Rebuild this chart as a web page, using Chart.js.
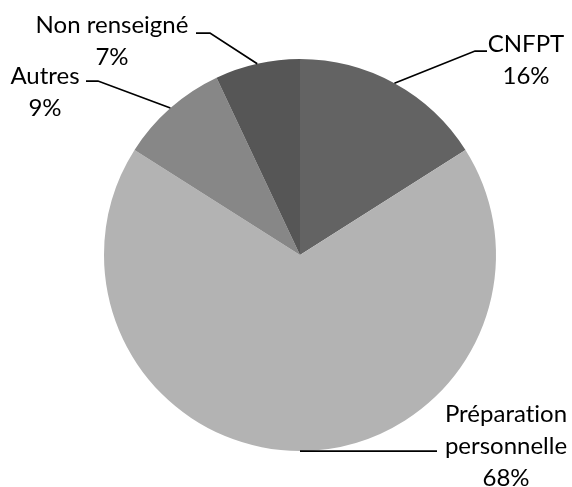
<!DOCTYPE html>
<html>
<head>
<meta charset="utf-8">
<script src="https://cdn.jsdelivr.net/npm/chart.js@4/dist/chart.umd.min.js"></script>
<style>
  html, body { margin: 0; padding: 0; background: #fff; }
  #wrap { width: 572px; height: 487px; }
  canvas { font-variant-ligatures: none; }
</style>
</head>
<body>
<div id="wrap"><canvas id="pieChart" width="572" height="487"></canvas></div>
<script>
// ===== DATA =====
const categories = ["CNFPT", "Préparation personnelle", "Autres", "Non renseigné"];
const values     = [16, 68, 9, 7];
const sliceColors = ["#636363", "#b3b3b3", "#878787", "#565656"];

// label blocks: text lines, text centre, elbow of the leader line, end of leader next to text
const labelLayout = [
  { lines: ["CNFPT"],                      x: 526, y: 44,  elbow: [475, 51],  end: [487, 51] },
  { lines: ["Préparation", "personnelle"], x: 506, y: 414, elbow: null,       end: [437, 451] },
  { lines: ["Autres"],                     x: 45,  y: 76,  elbow: [98, 81],   end: [86, 81] },
  { lines: ["Non renseigné"],              x: 112, y: 25,  elbow: [210, 33],  end: [196, 33] },
];
const LINE_H = 32;
const FONT = "24px Lato, 'Open Sans', sans-serif";

const total = values.reduce((s, v) => s + v, 0);

// ===== LABELS + LEADER LINES =====
const leaderLabels = {
  id: "leaderLabels",
  afterDatasetsDraw(chart) {
    const ctx = chart.ctx;
    const meta = chart.getDatasetMeta(0);
    ctx.save();
    if ("textRendering" in ctx) ctx.textRendering = "optimizeSpeed"; // no "ti" ligature
    meta.data.forEach((arc, i) => {
      const p = arc.getProps(["x", "y", "startAngle", "endAngle", "outerRadius"], true);
      const mid = (p.startAngle + p.endAngle) / 2;
      const ax = p.x + Math.cos(mid) * p.outerRadius;
      const ay = p.y + Math.sin(mid) * p.outerRadius;
      const lay = labelLayout[i];

      ctx.strokeStyle = "#000";
      ctx.lineWidth = 1.75;
      ctx.beginPath();
      ctx.moveTo(ax, ay);
      if (lay.elbow) ctx.lineTo(lay.elbow[0], lay.elbow[1]);
      ctx.lineTo(lay.end[0], lay.end[1]);
      ctx.stroke();

      const pct = Math.round(values[i] / total * 100) + "%";
      const lines = lay.lines.concat([pct]);
      ctx.fillStyle = "#000";
      ctx.font = FONT;
      ctx.textAlign = "center";
      ctx.textBaseline = "middle";
      lines.forEach((t, k) => ctx.fillText(t, lay.x, lay.y + k * LINE_H));
    });
    ctx.restore();
  }
};

new Chart(document.getElementById("pieChart"), {
  type: "pie",
  data: {
    labels: categories,
    datasets: [{ data: values, backgroundColor: sliceColors, borderWidth: 0, hoverOffset: 0 }]
  },
  options: {
    responsive: false,
    animation: false,
    layout: { padding: { left: 100, right: 72, top: 59, bottom: 36 } },
    plugins: { legend: { display: false }, tooltip: { enabled: false } }
  },
  plugins: [leaderLabels]
});
</script>
</body>
</html>
